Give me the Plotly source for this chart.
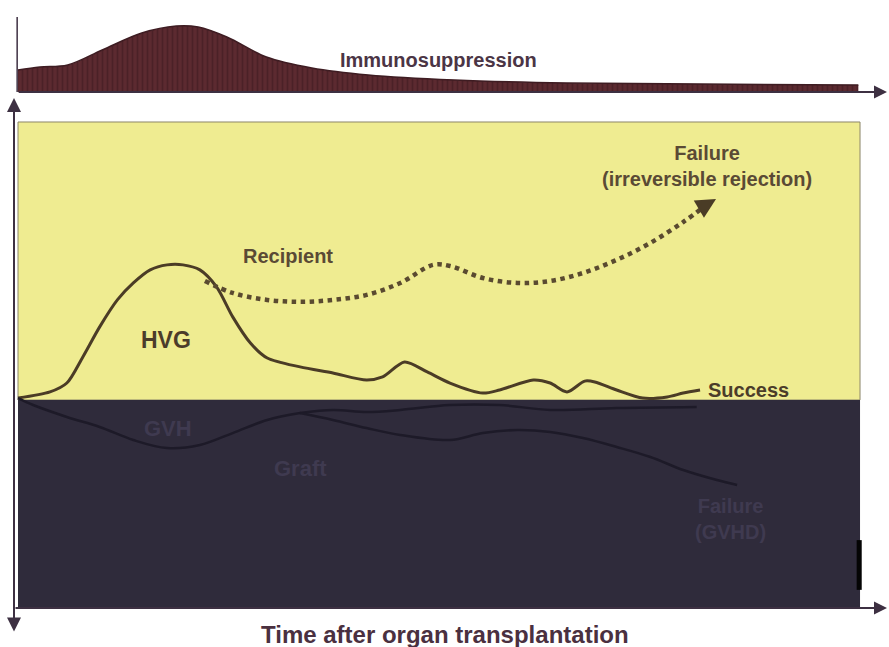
import plotly.graph_objects as go

# ---------------- data (conceptual curves) ----------------
# time axis: 0..100 (start .. end of observation)
immuno_t = [0, 2.6, 5.9, 10.0, 14.7, 18.8, 21.4, 24.8, 29.5, 34.9, 41.6, 51.8, 65.2, 81.0, 99.8]
immuno_v = [0.328, 0.373, 0.403, 0.627, 0.881, 0.985, 0.970, 0.821, 0.522, 0.358, 0.254, 0.179, 0.134, 0.119, 0.104]

hvg_t = [0, 3.8, 5.8, 7.7, 9.7, 11.8, 13.7, 15.7, 17.7, 19.6, 21.6, 23.6, 25.5, 27.6, 29.6,
         33.5, 37.4, 41.4, 43.3, 45.9, 48.6, 51.3, 55.2, 57.2, 61.2, 63.2, 65.2, 67.3, 68.5,
         71.1, 74.2, 77.1, 79.0, 81.0]
hvg_v = [0.07, 0.29, 0.61, 1.55, 2.63, 3.60, 4.21, 4.68, 4.86, 4.86, 4.68, 4.06, 2.99, 2.05, 1.51,
         1.19, 0.97, 0.72, 0.83, 1.37, 1.01, 0.61, 0.25, 0.36, 0.72, 0.61, 0.29, 0.68, 0.65,
         0.36, 0.07, 0.11, 0.25, 0.36]

recip_t = [22.2, 25.5, 29.6, 33.5, 37.4, 41.4, 45.4, 49.3, 51.3, 55.2, 59.3, 63.2, 67.1, 71.1, 75.1, 79.0, 81.9]
recip_v = [4.28, 3.85, 3.60, 3.53, 3.60, 3.78, 4.21, 4.86, 4.82, 4.39, 4.21, 4.28, 4.57, 5.04, 5.65, 6.40, 7.05]
recip_tip = (82.9, 7.23)

gvh_t = [0, 1.8, 5.8, 9.7, 13.7, 17.7, 21.6, 25.5, 29.6, 33.5]
gvh_v = [0.07, -0.18, -0.61, -0.97, -1.44, -1.73, -1.62, -1.19, -0.72, -0.47]

gvh_ok_t = [33.5, 37.4, 41.4, 45.4, 51.3, 57.2, 63.2, 71.1, 80.6]
gvh_ok_v = [-0.47, -0.36, -0.43, -0.36, -0.18, -0.18, -0.36, -0.29, -0.25]

gvh_fail_t = [33.5, 37.4, 41.4, 45.4, 51.3, 55.2, 59.3, 63.2, 67.1, 71.1, 75.1, 79.0, 83.0, 85.4]
gvh_fail_v = [-0.47, -0.72, -1.01, -1.26, -1.44, -1.19, -1.08, -1.15, -1.37, -1.69, -2.05, -2.52, -2.88, -3.06]

# ---------------- styling ----------------
YELLOW = "#efec91"
DARK = "#2f2b3b"
BROWN = "#4b3c26"
MAROON = "#5c2a30"
AXIS = "#3d3042"
DIMTXT = "#3f3a50"
FONT = "Liberation Sans, Arial, sans-serif"

fig = go.Figure()

# immunosuppression (top panel, on y2)
fig.add_trace(go.Scatter(
    x=immuno_t, y=immuno_v, yaxis="y2", mode="lines", fill="tozeroy",
    line=dict(color="#3e1c22", width=1.5, shape="spline", smoothing=1.0),
    fillcolor=MAROON,
    fillpattern=dict(shape="|", fgcolor="#3a171d", bgcolor=MAROON, size=5, solidity=0.35),
    hoverinfo="skip"))

# HVG curve
fig.add_trace(go.Scatter(
    x=hvg_t, y=hvg_v, mode="lines",
    line=dict(color=BROWN, width=3, shape="spline", smoothing=0.8), hoverinfo="skip"))

# recipient (failure) dotted
fig.add_trace(go.Scatter(
    x=recip_t, y=recip_v, mode="lines",
    line=dict(color="#5a4a30", width=4.5, dash="dot", shape="spline", smoothing=1.0), hoverinfo="skip"))

# GVH curves in dark area
for tt, vv in [(gvh_t, gvh_v), (gvh_ok_t, gvh_ok_v), (gvh_fail_t, gvh_fail_v)]:
    fig.add_trace(go.Scatter(
        x=tt, y=vv, mode="lines",
        line=dict(color="#1d1a28", width=2.5, shape="spline", smoothing=1.0), hoverinfo="skip"))

shapes = [
    dict(type="rect", xref="x", yref="y", x0=0, x1=100, y0=0, y1=10,
         fillcolor=YELLOW, line=dict(color="#8c866a", width=1), layer="below"),
    dict(type="rect", xref="x", yref="y", x0=0, x1=100, y0=-7.48, y1=0,
         fillcolor=DARK, line=dict(width=0), layer="below"),
    dict(type="rect", xref="x", yref="y", x0=99.6, x1=100.2, y0=-6.83, y1=-5.04,
         fillcolor="#050505", line=dict(width=0), layer="above"),
    dict(type="line", xref="x", yref="y2", x0=-0.1, x1=-0.1, y0=0, y1=1.12,
         line=dict(color=AXIS, width=1.5)),
]

ann = []
# axes arrows
ann.append(dict(x=103.2, y=0, xref="x", yref="y2", ax=-0.1, ay=0, axref="x", ayref="y2",
                showarrow=True, arrowhead=2, arrowsize=1.3, arrowwidth=2, arrowcolor=AXIS, text=""))
ann.append(dict(x=103.2, y=-7.48, xref="x", yref="y", ax=-0.475, ay=-7.48, axref="x", ayref="y",
                showarrow=True, arrowhead=2, arrowsize=1.3, arrowwidth=2, arrowcolor=AXIS, text=""))
ann.append(dict(x=-0.475, y=10.86, xref="x", yref="y", ax=-0.475, ay=-8.38, axref="x", ayref="y",
                showarrow=True, arrowhead=2, startarrowhead=2, arrowside="end+start",
                arrowsize=1.4, startarrowsize=1.4, arrowwidth=2, arrowcolor=AXIS, text=""))
# recipient arrow head
ann.append(dict(x=recip_tip[0], y=recip_tip[1], xref="x", yref="y",
                ax=recip_t[-1], ay=recip_v[-1], axref="x", ayref="y",
                showarrow=True, arrowhead=2, arrowsize=1.0, arrowwidth=4, arrowcolor="#4a3c26", text=""))

def label(text, x, y, size=20, color=BROWN, yref="y"):
    ann.append(dict(text=text, x=x, y=y, xref="x", yref=yref, showarrow=False,
                    font=dict(family=FONT, size=size, color=color), align="center"))

label("<b>Immunosuppression</b>", 49.9, 0.478, 20, "#4b3545", "y2")
label("<b>Recipient</b>", 32.1, 5.18, 20, "#5a4a35")
label("<b>HVG</b>", 17.6, 2.16, 23, "#4b3c2a")
label("<b>Failure<br>(irreversible rejection)</b>", 81.8, 8.4, 20, "#5a4a35")
label("<b>Success</b>", 86.8, 0.36, 20, "#4b3c2a")
label("<b>GVH</b>", 17.8, -1.01, 22, DIMTXT)
label("<b>Graft</b>", 33.6, -2.45, 22, DIMTXT)
label("<b>Failure<br>(GVHD)</b>", 84.6, -4.28, 20, DIMTXT)
label("<b>Time after organ transplantation</b>", 50.7, -8.42, 24, "#4a3040")

fig.update_layout(
    width=889, height=647, autosize=False,
    margin=dict(l=0, r=0, t=0, b=0),
    paper_bgcolor="white", plot_bgcolor="white",
    showlegend=False,
    xaxis=dict(range=[-2.138, 103.44], visible=False, fixedrange=True),
    yaxis=dict(range=[-8.885, 14.388], visible=False, domain=[0, 1], fixedrange=True),
    yaxis2=dict(range=[-8.284, 1.373], visible=False, overlaying="y", fixedrange=True),
    shapes=shapes, annotations=ann,
)

fig.write_html("out.html", config={"displayModeBar": False},
               post_script="document.body.style.margin='0px';document.body.style.overflow='hidden';")
